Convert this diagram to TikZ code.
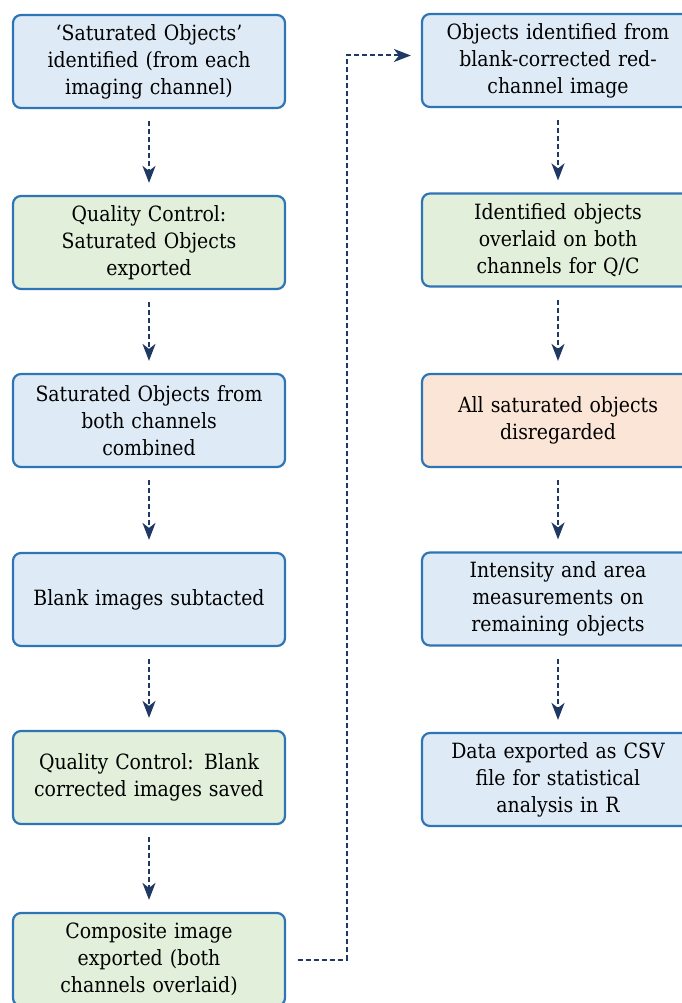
\documentclass[tikz,border=0pt]{standalone}
\usepackage{fontspec}
\setmainfont{DejaVu Serif Condensed}
\usetikzlibrary{arrows.meta}
\definecolor{edgeblue}{HTML}{2E75B6}
\definecolor{fillblue}{HTML}{DEEBF7}
\definecolor{fillgreen}{HTML}{E2EFDA}
\definecolor{fillpeach}{HTML}{FBE5D6}
\definecolor{navy}{HTML}{1F3864}
\tikzset{
  stepbox/.style={draw=edgeblue, line width=2.2pt, rounded corners=8pt,
    minimum width=272pt, minimum height=93pt, text width=260pt, align=center,
    inner sep=0pt, font=\fontsize{21}{27}\selectfont},
  bluebox/.style={stepbox, fill=fillblue},
  greenbox/.style={stepbox, fill=fillgreen},
  peachbox/.style={stepbox, fill=fillpeach},
  flow/.style={draw=navy, line width=2pt, dash pattern=on 5pt off 3pt,
    -{Stealth[length=17pt, width=13pt, inset=5pt]}},
}
\begin{document}
\begin{tikzpicture}[x=1pt, y=-1pt]
\useasboundingbox (0,0) rectangle (682,1003);
\clip (0,0) rectangle (682,1003);
% left column
\node[bluebox]  (l1) at (149, 61.5) {‘Saturated Objects’\\ identified (from each\\ imaging channel)};
\node[greenbox] (l2) at (149, 242.5) {Quality Control:\\ Saturated Objects\\ exported};
\node[bluebox]  (l3) at (149, 420.5) {Saturated Objects from\\ both channels\\ combined};
\node[bluebox]  (l4) at (149, 599.5) {Blank images subtacted};
\node[greenbox] (l5) at (149, 777.5) {Quality Control: Blank\\ corrected images saved};
\node[greenbox] (l6) at (149, 959.5) {Composite image\\ exported (both\\ channels overlaid)};
% right column
\node[bluebox]  (r1) at (558, 60.5) {Objects identified from\\ blank-corrected red-\\ channel image};
\node[greenbox] (r2) at (558, 240) {Identified objects\\ overlaid on both\\ channels for Q/C};
\node[peachbox] (r3) at (558, 420.5) {All saturated objects\\ disregarded};
\node[bluebox]  (r4) at (558, 599) {Intensity and area\\ measurements on\\ remaining objects};
\node[bluebox]  (r5) at (558, 779.5) {Data exported as CSV\\ file for statistical\\ analysis in R};
% vertical connectors
\foreach \a/\b in {l1/l2, l2/l3, l3/l4, l4/l5, l5/l6, r1/r2, r2/r3, r3/r4, r4/r5}{
  \draw[flow, shorten <=12pt, shorten >=12pt] (\a.south) -- (\b.north);
}
% link from the bottom of the left column to the top of the right one
\coordinate (jx) at (347, 0);
\coordinate (rin) at ([yshift=5pt]r1.west);
\draw[flow, shorten <=12pt, shorten >=10pt] (l6.east) -| (jx |- rin) -- (rin);
\end{tikzpicture}
\end{document}
